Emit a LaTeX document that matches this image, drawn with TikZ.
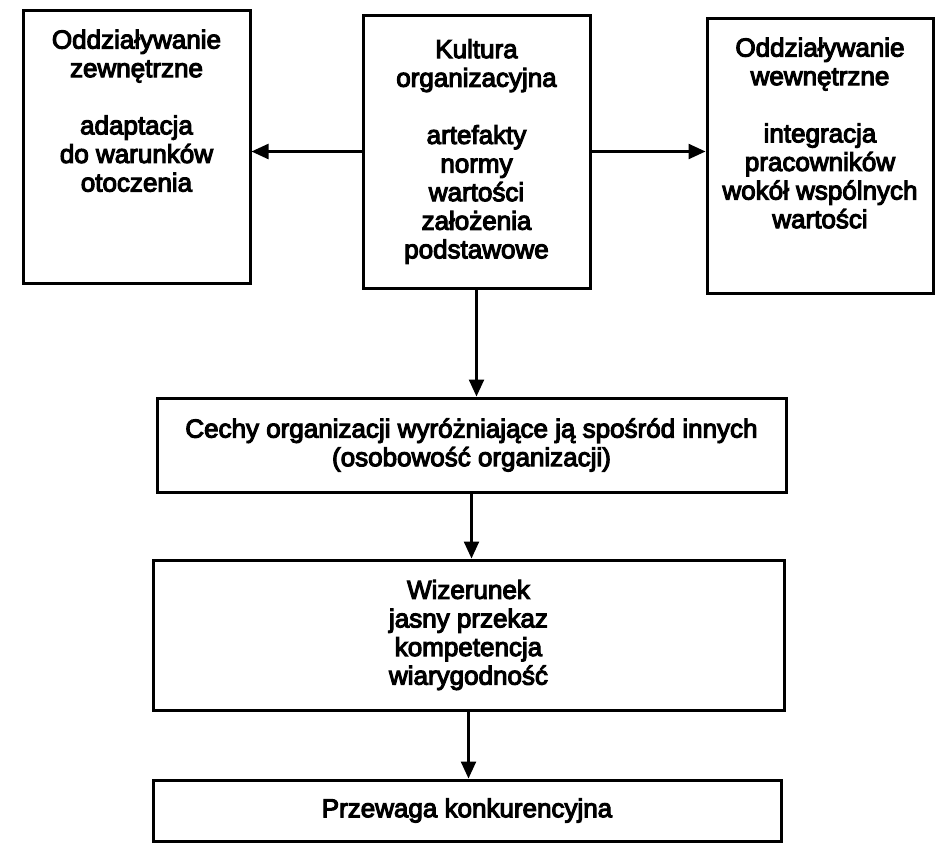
\documentclass[tikz,border=0pt]{standalone}
\usepackage{fontspec}
\setmainfont{Liberation Sans}
\usetikzlibrary{arrows.meta}
% heavier strokes for the printed lettering: fill and outline the glyphs
\newcommand{\inkset}{\special{pdf:literal direct 2 Tr 1.1 w}}
\newcommand{\inkreset}{\special{pdf:literal direct 0 Tr}}
\begin{document}
\begin{tikzpicture}[x=1pt,y=-1pt,
  box/.style={draw=black, line width=3pt, inner sep=0pt, fill=none},
  txt/.style={align=center, inner sep=0pt, font=\fontsize{26}{28.6}\selectfont,
    execute at begin node=\inkset, execute at end node=\inkreset},
  arr/.style={line width=2.4pt, -{Triangle[length=17pt,width=15pt]}}]
\useasboundingbox (0,0) rectangle (939,847);

% top row
\node[box, minimum width=227pt, minimum height=273pt] (L) at (136.5,146.5) {};
\node[box, minimum width=227pt, minimum height=273pt, txt] (C) at (476.5,151.5)
  {Kultura\\organizacyjna\\[28.6pt]artefakty\\normy\\wartości\\założenia\\podstawowe};
\node[box, minimum width=226pt, minimum height=275pt] (R) at (820,155.5) {};

\node[txt, anchor=north] (Lt) at ([yshift=-21pt]L.north)
  {Oddziaływanie\\zewnętrzne\\[28.6pt]adaptacja\\do warunków\\otoczenia};
\node[txt, anchor=north] (Rt) at ([yshift=-21pt]R.north)
  {Oddziaływanie\\wewnętrzne\\[28.6pt]integracja\\pracowników\\wokół wspólnych\\wartości};

% lower column
\node[box, minimum width=629pt, minimum height=94pt, txt] (B4) at (471.5,445)
  {Cechy organizacji wyróżniające ją spośród innych\\(osobowość organizacji)};
\node[box, minimum width=631pt, minimum height=150pt, txt] (B5) at (468.5,635)
  {Wizerunek\\jasny przekaz\\kompetencja\\wiarygodność};
\node[box, minimum width=628pt, minimum height=61pt, txt] (B6) at (467,810.5)
  {Przewaga konkurencyjna};

% connectors
\draw[arr] (C.west) -- (L.east |- C.west);
\draw[arr] (C.east) -- (R.west |- C.east);
\draw[arr] (C.south) -- (C.south |- B4.north);
\draw[arr] (B4.south) -- (B4.south |- B5.north);
\draw[arr] (B5.south) -- (B5.south |- B6.north);
\end{tikzpicture}
\end{document}
